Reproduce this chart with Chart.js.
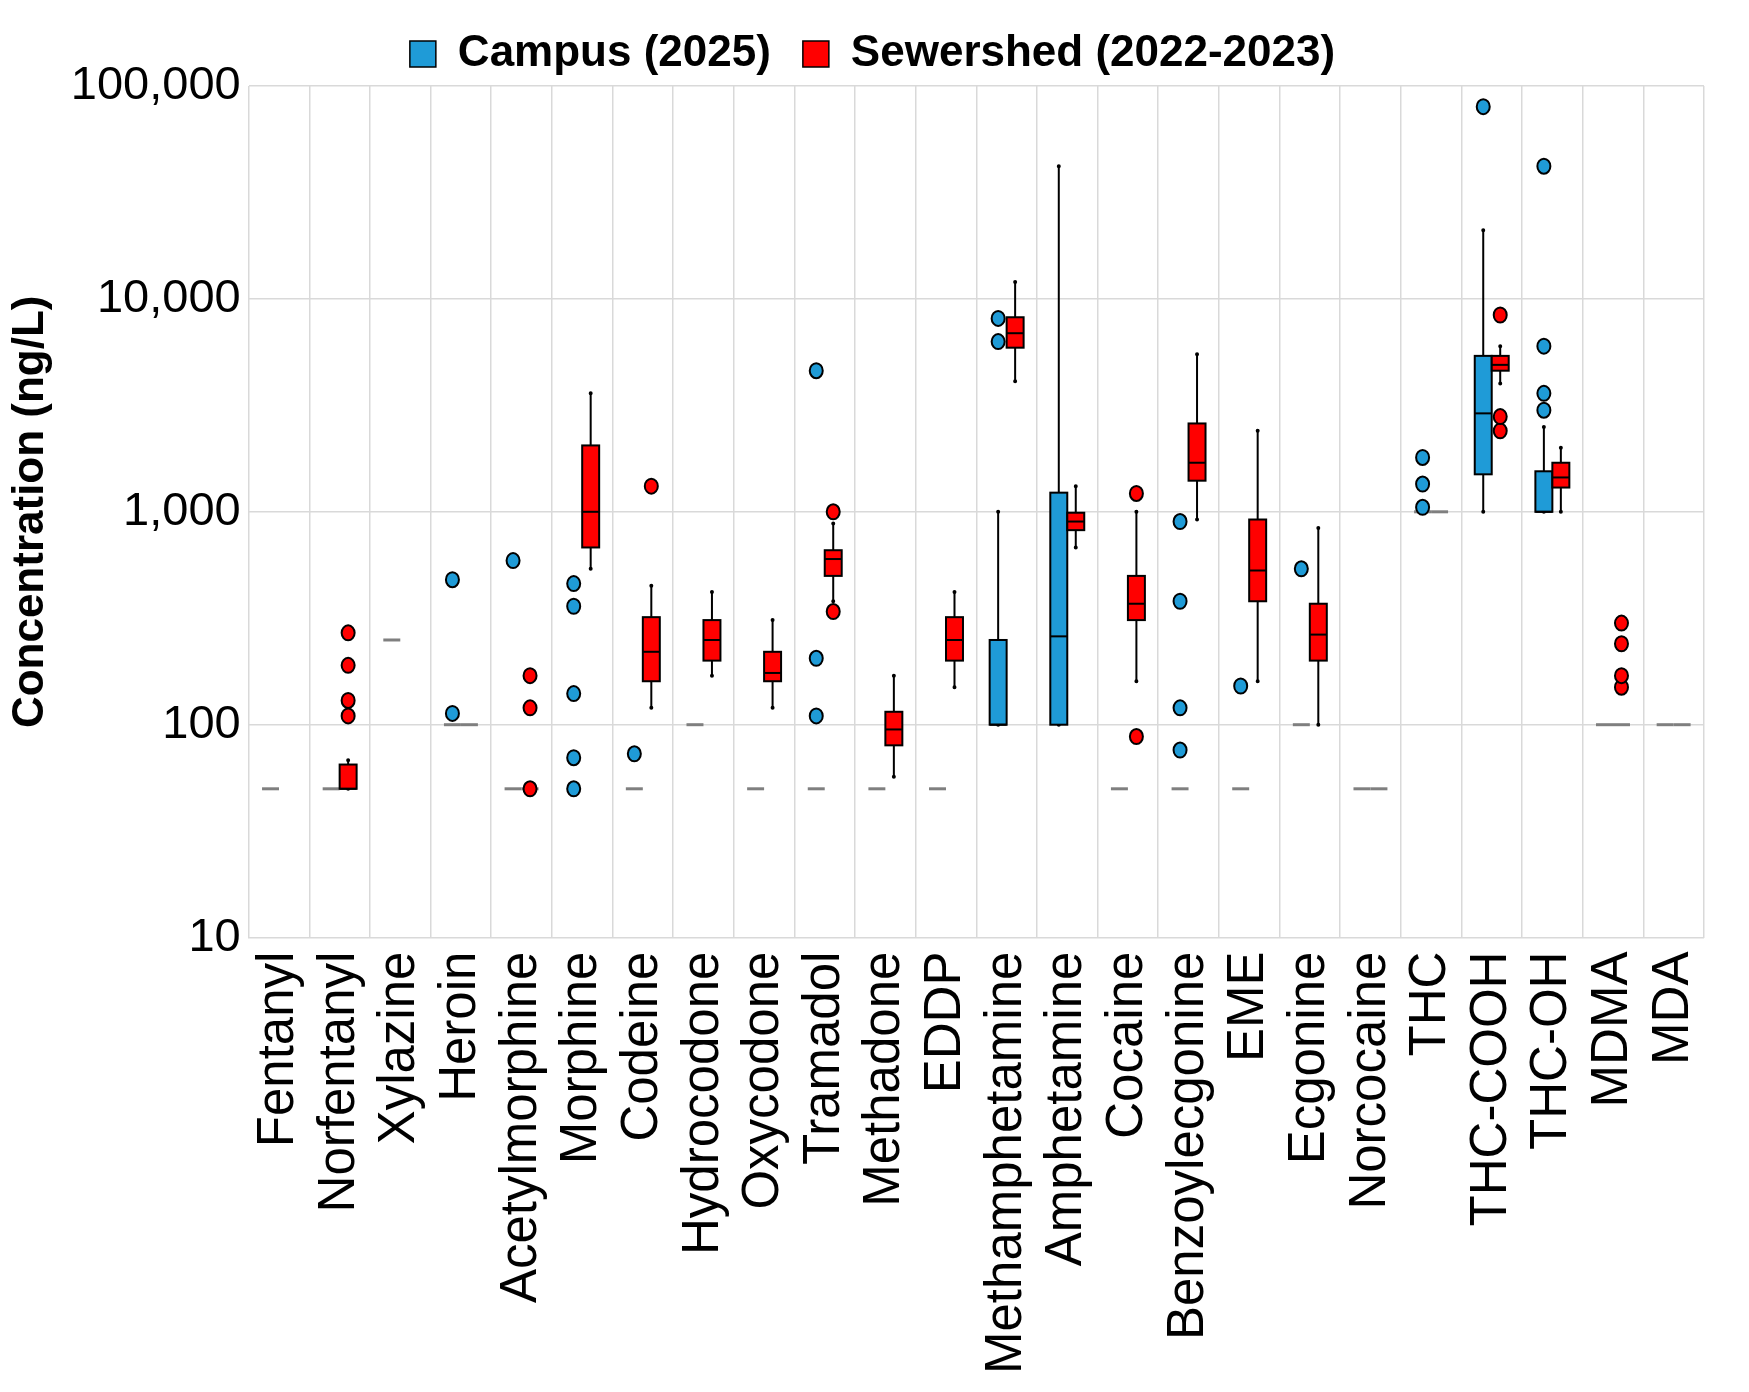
<!DOCTYPE html>
<html><head><meta charset="utf-8">
<script src="https://cdn.jsdelivr.net/npm/chart.js@4"></script>
<style>html,body{margin:0;background:#fff}#w{width:1749px;height:1392px}</style>
</head><body><div id="w"><canvas id="c"></canvas></div>
<script>
const categories = ["Fentanyl","Norfentanyl","Xylazine","Heroin","Acetylmorphine","Morphine","Codeine","Hydrocodone","Oxycodone","Tramadol","Methadone","EDDP","Methamphetamine","Amphetamine","Cocaine","Benzoylecgonine","EME","Ecgonine","Norcocaine","THC","THC-COOH","THC-OH","MDMA","MDA"];
// [min, q1, median, q3, max] ; null = no box
const campusBox = [
 [50,50,50,50,50],[50,50,50,50,50],[250,250,250,250,250],[100,100,100,100,100],[50,50,50,50,50],null,
 [50,50,50,50,50],[100,100,100,100,100],[50,50,50,50,50],[50,50,50,50,50],[50,50,50,50,50],[50,50,50,50,50],
 [100,100,100,250,1000],[100,100,260,1230,42000],[50,50,50,50,50],[50,50,50,50,50],[50,50,50,50,50],[100,100,100,100,100],
 [50,50,50,50,50],[1000,1000,1000,1000,1000],[1000,1500,2900,5400,21000],[1000,1000,1000,1550,2500],[100,100,100,100,100],[100,100,100,100,100]];
const campusOutliers = [[],[],[],[113,480],[590],[50,70,140,360,460],[73],[],[],[110,205,4600],[],[],
 [6300,8100],[],[],[76,120,380,900],[152],[540],[],[1050,1350,1800],[80000],[3000,3600,6000,42000],[],[]];
const sewerBox = [
 null,[50,50,50,65,68],null,[100,100,100,100,100],[50,50,50,50,50],[540,680,1000,2050,3600],
 [120,160,220,320,450],[170,200,250,310,420],[120,160,175,220,310],[380,500,600,660,880],[57,80,95,115,170],[150,200,250,320,420],
 [4100,5900,6900,8200,12000],[680,820,900,990,1320],[160,310,370,500,1000],[920,1400,1700,2600,5500],[160,380,530,920,2400],[100,200,265,370,840],
 [50,50,50,50,50],[1000,1000,1000,1000,1000],[4000,4600,4900,5400,6000],[1000,1300,1450,1700,2000],[100,100,100,100,100],[100,100,100,100,100]];
const sewerOutliers = [[],[110,130,190,270],[],[],[50,120,170],[],[1320],[],[],[340,1000],[],[],
 [],[],[88,1220],[],[],[],[],[],[2400,2800,8400],[],[150,170,240,300],[]];
const yTicks = [10,100,1000,10000,100000];

const toBar = b => b ? [b[1], b[3]] : null;
const boxPlugin = {
  id:'box',
  afterDatasetsDraw(chart){
    const ctx = chart.ctx, y = chart.scales.y;
    [[0,campusBox,campusOutliers,'#1f9bd7'],[1,sewerBox,sewerOutliers,'#ff0000']].forEach(([di,boxes,outs,col])=>{
      const meta = chart.getDatasetMeta(di);
      meta.data.forEach((el,i)=>{
        const b = boxes[i]; const x = el.x, w = el.width;
        ctx.save();
        if(b){
          if(b[0]===b[4]){
            ctx.strokeStyle='#7f7f7f'; ctx.lineWidth=3;
            ctx.beginPath(); ctx.moveTo(x-w/2,y.getPixelForValue(b[0])); ctx.lineTo(x+w/2,y.getPixelForValue(b[0])); ctx.stroke();
          } else {
            ctx.strokeStyle='#000'; ctx.lineWidth=2;
            ctx.beginPath();
            ctx.moveTo(x,y.getPixelForValue(b[3])); ctx.lineTo(x,y.getPixelForValue(b[4]));
            ctx.moveTo(x,y.getPixelForValue(b[1])); ctx.lineTo(x,y.getPixelForValue(b[0]));
            ctx.stroke();
            ctx.beginPath(); ctx.arc(x,y.getPixelForValue(b[4]),2,0,7); ctx.arc(x,y.getPixelForValue(b[0]),2,0,7); ctx.fill();
            ctx.fillStyle=col; ctx.fillRect(x-w/2,y.getPixelForValue(b[3]),w,y.getPixelForValue(b[1])-y.getPixelForValue(b[3]));
            ctx.strokeRect(x-w/2,y.getPixelForValue(b[3]),w,y.getPixelForValue(b[1])-y.getPixelForValue(b[3]));
            ctx.beginPath(); ctx.moveTo(x-w/2,y.getPixelForValue(b[2])); ctx.lineTo(x+w/2,y.getPixelForValue(b[2])); ctx.stroke();
          }
        }
        outs[i].forEach(v=>{
          ctx.fillStyle=col; ctx.strokeStyle='#000'; ctx.lineWidth=2;
          ctx.beginPath(); ctx.ellipse(x,y.getPixelForValue(v),6.5,7.5,0,0,7); ctx.fill(); ctx.stroke();
        });
        ctx.restore();
      });
    });
  }
};

new Chart(document.getElementById('c'),{
  type:'bar',
  data:{labels:categories,datasets:[
    {label:'Campus (2025)',data:campusBox.map(toBar),backgroundColor:'rgba(0,0,0,0)',borderWidth:0},
    {label:'Sewershed (2022-2023)',data:sewerBox.map(toBar),backgroundColor:'rgba(0,0,0,0)',borderWidth:0}]},
  options:{
    responsive:true,maintainAspectRatio:false,animation:false,
    layout:{padding:{left:4,right:8,top:0,bottom:4}},
    datasets:{bar:{categoryPercentage:0.56,barPercentage:1}},
    plugins:{
      tooltip:{enabled:false},
      legend:{position:'top',labels:{font:{family:'Liberation Sans',size:44,weight:'bold'},color:'#000',boxWidth:26,boxHeight:26,padding:32,
        generateLabels:()=>[
          {text:'Campus (2025)',fillStyle:'#1f9bd7',strokeStyle:'#000',lineWidth:1.5,datasetIndex:0},
          {text:'Sewershed (2022-2023)',fillStyle:'#ff0000',strokeStyle:'#000',lineWidth:1.5,datasetIndex:1}]}}
    },
    scales:{
      x:{grid:{color:'#d9d9d9',lineWidth:1.5,drawTicks:false},border:{color:'#d9d9d9'},
        ticks:{minRotation:90,maxRotation:90,autoSkip:false,color:'#000',padding:14,font:{family:'Liberation Sans',size:51}}},
      y:{type:'logarithmic',min:10,max:100000,
        afterBuildTicks:s=>{s.ticks=yTicks.map(v=>({value:v}));},
        grid:{color:'#d9d9d9',lineWidth:1.5,drawTicks:false},border:{color:'#d9d9d9'},
        title:{display:true,text:'Concentration (ng/L)',color:'#000',padding:{top:0,bottom:6},font:{family:'Liberation Sans',size:44,weight:'bold'}},
        ticks:{color:'#000',padding:8,font:{family:'Liberation Sans',size:47},callback:v=>Number(v).toLocaleString('en-US')}}
    }
  },
  plugins:[boxPlugin]
});
</script></body></html>
